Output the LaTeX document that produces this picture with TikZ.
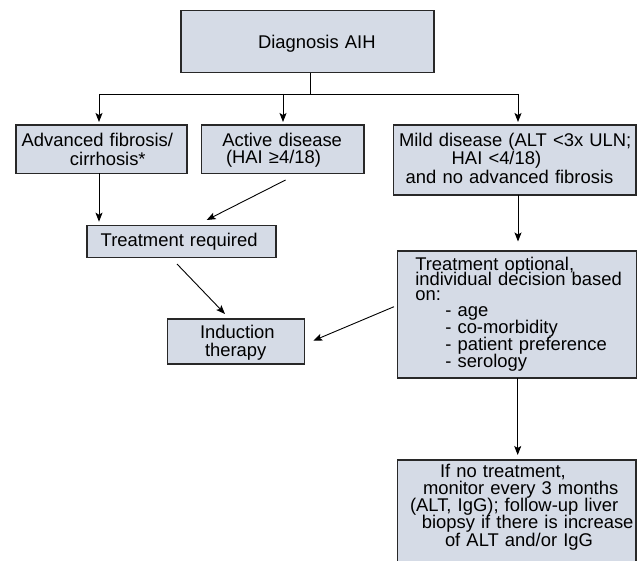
\documentclass[tikz,border=0pt]{standalone}
\usepackage{fontspec}
\setmainfont{Liberation Sans}
\usetikzlibrary{arrows.meta}
\definecolor{boxfill}{RGB}{213,219,230}
\definecolor{boxline}{RGB}{40,40,40}
\newcommand\Lrow[2]{\mbox{\hspace*{#1pt}#2}}
\newcommand\Ttop[1]{\rule{0pt}{#1pt}}
\newcommand\Bbot[1]{\rule[-#1pt]{0pt}{#1pt}}
\lineskiplimit=-100pt
\tikzset{
  box/.style={draw=boxline, line width=1.1pt, fill=boxfill, inner sep=0pt, outer sep=0pt, anchor=north west, align=left},
  lead/.style={font={\fontsize{18.4}{#1}\selectfont\lineskiplimit=-100pt}},
  conn/.style={line width=0.9pt, draw=black},
  arr/.style={conn, -{Stealth[length=9pt,width=7pt,inset=2pt]}},
}
\begin{document}
\begin{tikzpicture}[x=1pt,y=-1pt]
\useasboundingbox (0,0) rectangle (639,561);
\node[box, lead=20, text width=253pt] (diag) at (181,10.5) {\Lrow{77}{\Ttop{37.8}\Bbot{24.4}Diagnosis AIH}};
\node[box, lead=19.3, text width=171pt] (A) at (16,125) {\Lrow{5.7}{\Ttop{21.7}Advanced fibrosis/}\\ \Lrow{54}{\Bbot{7.3}cirrhosis*}};
\node[box, lead=16.6, text width=162.3pt] (B) at (201.7,125) {\Lrow{20.6}{\Ttop{21.7}Active disease}\\ \Lrow{24.3}{\Bbot{10}(HAI ≥4/18)}};
\node[box, lead=18.3, text width=242.7pt] (C) at (393.3,125) {\Lrow{5.7}{\Ttop{21.7}Mild disease (ALT <3x ULN;}\\ \Lrow{58.4}{HAI <4/18)}\\[0.7pt] \Lrow{12.4}{\Bbot{11}and no advanced fibrosis}};
\node[box, lead=20, text width=189pt] (TR) at (87,225.7) {\Lrow{13.7}{\Ttop{21}\Bbot{10.6}Treatment required}};
\node[box, lead=17.7, text width=137pt] (Ind) at (167.3,319) {\Lrow{32.7}{\Ttop{19.3}Induction}\\ \Lrow{37.7}{\Bbot{8}therapy}};
\node[box, lead=15.3, text width=239.2pt] (TO) at (397.3,251) {\Lrow{18}{\Ttop{19}Treatment optional,}\\ \Lrow{18}{individual decision based}\\ \Lrow{18}{on:}\\[0.6pt] \Lrow{48}{- age}\\[1.7pt] \Lrow{48}{- co-morbidity}\\[1.7pt] \Lrow{48}{- patient preference}\\[1.2pt] \Lrow{48}{\Bbot{11}- serology}};
\node[box, lead=17.25, text width=238.7pt] (Bot) at (397.3,460) {\Lrow{42.7}{\Ttop{17}If no treatment,}\\ \Lrow{25.7}{monitor every 3 months}\\ \Lrow{12.7}{(ALT, IgG); follow-up liver}\\ \Lrow{24.5}{biopsy if there is increase}\\ \Lrow{47.7}{\Bbot{20}of ALT and/or IgG}};
\coordinate (split) at (310,94);
\coordinate (jl) at (99,94);
\coordinate (jm) at (283,94);
\coordinate (jr) at (518,94);
\coordinate (tx) at (517.7,0);
\draw[conn] (split |- diag.south) -- (split);
\draw[conn] (jl) -- (jr);
\draw[arr, shorten >=3pt] (jl) -- (jl |- A.north);
\draw[arr, shorten >=3pt] (jm) -- (jm |- B.north);
\draw[arr, shorten >=3pt] (jr) -- (jr |- C.north);
\draw[arr, shorten >=4pt] (jl |- A.south) -- (jl |- TR.north);
\draw[arr] ([xshift=2.7pt,yshift=-6.7pt]B.south) -- ([xshift=25.2pt,yshift=5.7pt]TR.north);
\draw[arr] ([xshift=-4.5pt,yshift=-6.7pt]TR.south) -- ([xshift=-10.8pt,yshift=5pt]Ind.north);
\draw[arr, shorten >=9.5pt] (jr |- C.south) -- (jr |- TO.north);
\draw[arr] ([xshift=-3.3pt,yshift=7.8pt]TO.west) -- ([xshift=9pt,yshift=0.8pt]Ind.east);
\draw[arr, shorten >=5pt] (tx |- TO.south) -- (tx |- Bot.north);
\end{tikzpicture}
\end{document}
